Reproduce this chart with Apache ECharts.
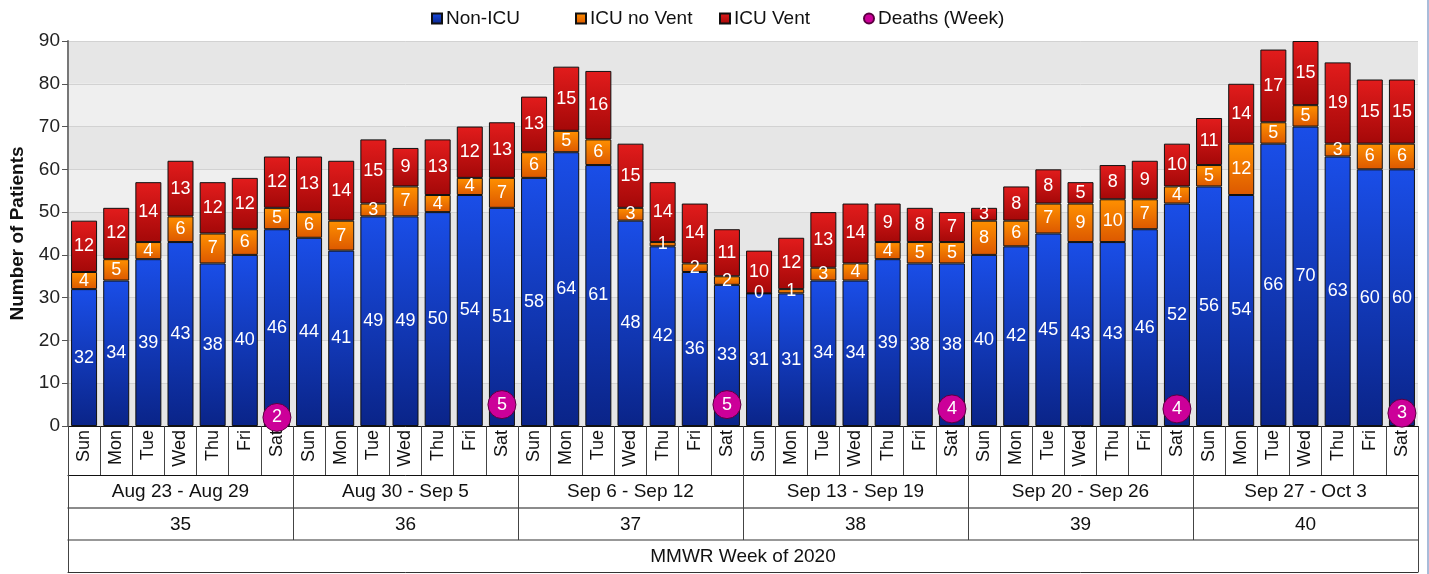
<!DOCTYPE html>
<html>
<head>
<meta charset="utf-8">
<script src="https://cdn.jsdelivr.net/npm/echarts@6/dist/echarts.min.js"></script>
<style>
html,body{margin:0;padding:0;background:#fff;}
#c{width:1427px;height:574px;border-right:2px solid #a9bcd9;}
</style>
</head>
<body>
<div id="c"></div>
<script>
const days = ['Sun','Mon','Tue','Wed','Thu','Fri','Sat'];
const weekRanges = ['Aug 23 - Aug 29','Aug 30 - Sep 5','Sep 6 - Sep 12','Sep 13 - Sep 19','Sep 20 - Sep 26','Sep 27 - Oct 3'];
const weekNums = ['35','36','37','38','39','40'];
const axisTitle = ['MMWR Week of 2020'];
const nonIcu = [32,34,39,43,38,40,46, 44,41,49,49,50,54,51, 58,64,61,48,42,36,33, 31,31,34,34,39,38,38, 40,42,45,43,43,46,52, 56,54,66,70,63,60,60];
const icuNoVent = [4,5,4,6,7,6,5, 6,7,3,7,4,4,7, 6,5,6,3,1,2,2, 0,1,3,4,4,5,5, 8,6,7,9,10,7,4, 5,12,5,5,3,6,6];
const icuVent = [12,12,14,13,12,12,12, 13,14,15,9,13,12,13, 13,15,16,15,14,14,11, 10,12,13,14,9,8,7, 3,8,8,5,8,9,10, 11,14,17,15,19,15,15];
const deathsWeek = [2,5,5,4,4,3];
const legendNames = ['Non-ICU','ICU no Vent','ICU Vent','Deaths (Week)'];

const dayCats = [];
weekRanges.forEach((w, wi) => days.forEach(d => dayCats.push(d + '|' + wi)));
const deathPts = deathsWeek.map((v, i) => [dayCats[i * 7 + 6], v]);

const FONT = '"Liberation Sans", Arial, sans-serif';
const grad = (a, b) => new echarts.graphic.LinearGradient(0, 0, 0, 1, [{offset:0,color:a},{offset:1,color:b}]);
const lbl = {show:true, position:'inside', color:'#fff', fontSize:18, fontFamily:FONT};
const lineC = '#444';
const legendLeft = [426, 570, 714, 858];

const chart = echarts.init(document.getElementById('c'), null, {renderer:'canvas'});
chart.setOption({
  animation:false,
  textStyle:{fontFamily:FONT},
  legend: legendNames.map((n, i) => ({
    left:legendLeft[i], top:4, itemWidth:10, itemHeight:10, itemGap:0,
    textStyle:{fontSize:19, color:'#111', fontFamily:FONT, padding:[0,0,0,-1]},
    data:[{name:n, icon: i === 3 ? 'circle' : 'rect'}]
  })),
  grid:{left:68, right:9, top:41, bottom:148, containLabel:false, outerBoundsMode:'none'},
  yAxis:{
    type:'value', min:0, max:90, interval:10,
    name:'Number of Patients', nameLocation:'middle', nameGap:41,
    nameTextStyle:{fontSize:19, fontWeight:'bold', color:'#111', fontFamily:FONT},
    axisLine:{show:true, lineStyle:{color:'#777', width:2}},
    axisTick:{show:true, length:6, lineStyle:{color:'#555'}},
    axisLabel:{fontSize:19, color:'#222', margin:8, fontFamily:FONT},
    splitLine:{show:true, lineStyle:{color:'#d2d2d2', width:1}},
    splitArea:{show:true, areaStyle:{color:['#e6e6e6','#efefef']}}
  },
  xAxis:[
    {type:'category', data:dayCats, position:'bottom', offset:0,
     axisLine:{show:true, lineStyle:{color:'#111'}},
     axisTick:{show:true, length:49, interval:0, lineStyle:{color:lineC}},
     axisLabel:{interval:0, rotate:90, fontSize:18, color:'#111', margin:4, fontFamily:FONT,
       formatter:v => v.split('|')[0]}},
    {type:'category', data:weekRanges, position:'bottom', offset:49,
     axisLine:{show:true, lineStyle:{color:'#111'}},
     axisTick:{show:true, length:33, interval:0, lineStyle:{color:lineC}},
     axisLabel:{interval:0, fontSize:19, color:'#111', margin:7, fontFamily:FONT}},
    {type:'category', data:weekNums, position:'bottom', offset:82,
     axisLine:{show:true, lineStyle:{color:'#666', width:1.5}},
     axisTick:{show:true, length:32, interval:0, lineStyle:{color:lineC}},
     axisLabel:{interval:0, fontSize:19, color:'#111', margin:7, fontFamily:FONT}},
    {type:'category', data:axisTitle, position:'bottom', offset:114,
     axisLine:{show:true, lineStyle:{color:'#777', width:1.5}},
     axisTick:{show:true, length:32, interval:0, lineStyle:{color:lineC}},
     axisLabel:{interval:0, fontSize:19, color:'#111', margin:7, fontFamily:FONT}},
    {type:'category', data:axisTitle, position:'bottom', offset:146,
     axisLine:{show:true, lineStyle:{color:'#333'}},
     axisTick:{show:false}, axisLabel:{show:false}}
  ],
  series:[
    {name:'Non-ICU', type:'bar', stack:'p', xAxisIndex:0, barWidth:26, data:nonIcu,
     itemStyle:{color:grad('#1a4ee8','#0a2488'), borderColor:'#111', borderWidth:1}, label:lbl},
    {name:'ICU no Vent', type:'bar', stack:'p', xAxisIndex:0, barWidth:26, data:icuNoVent,
     itemStyle:{color:grad('#ff9000','#dc5800'), borderColor:'#111', borderWidth:1}, label:lbl},
    {name:'ICU Vent', type:'bar', stack:'p', xAxisIndex:0, barWidth:26, data:icuVent,
     itemStyle:{color:grad('#e21c1c','#a40808'), borderColor:'#111', borderWidth:1}, label:lbl},
    {name:'Deaths (Week)', type:'scatter', xAxisIndex:0, data:deathPts, symbolSize:28, z:5,
     itemStyle:{color:'#cc0099', borderColor:'#5a0040', borderWidth:1, opacity:1},
     label:{show:true, position:'inside', color:'#fff', fontSize:18, fontFamily:FONT, formatter:p => p.value[1]}}
  ]
});
</script>
</body>
</html>
